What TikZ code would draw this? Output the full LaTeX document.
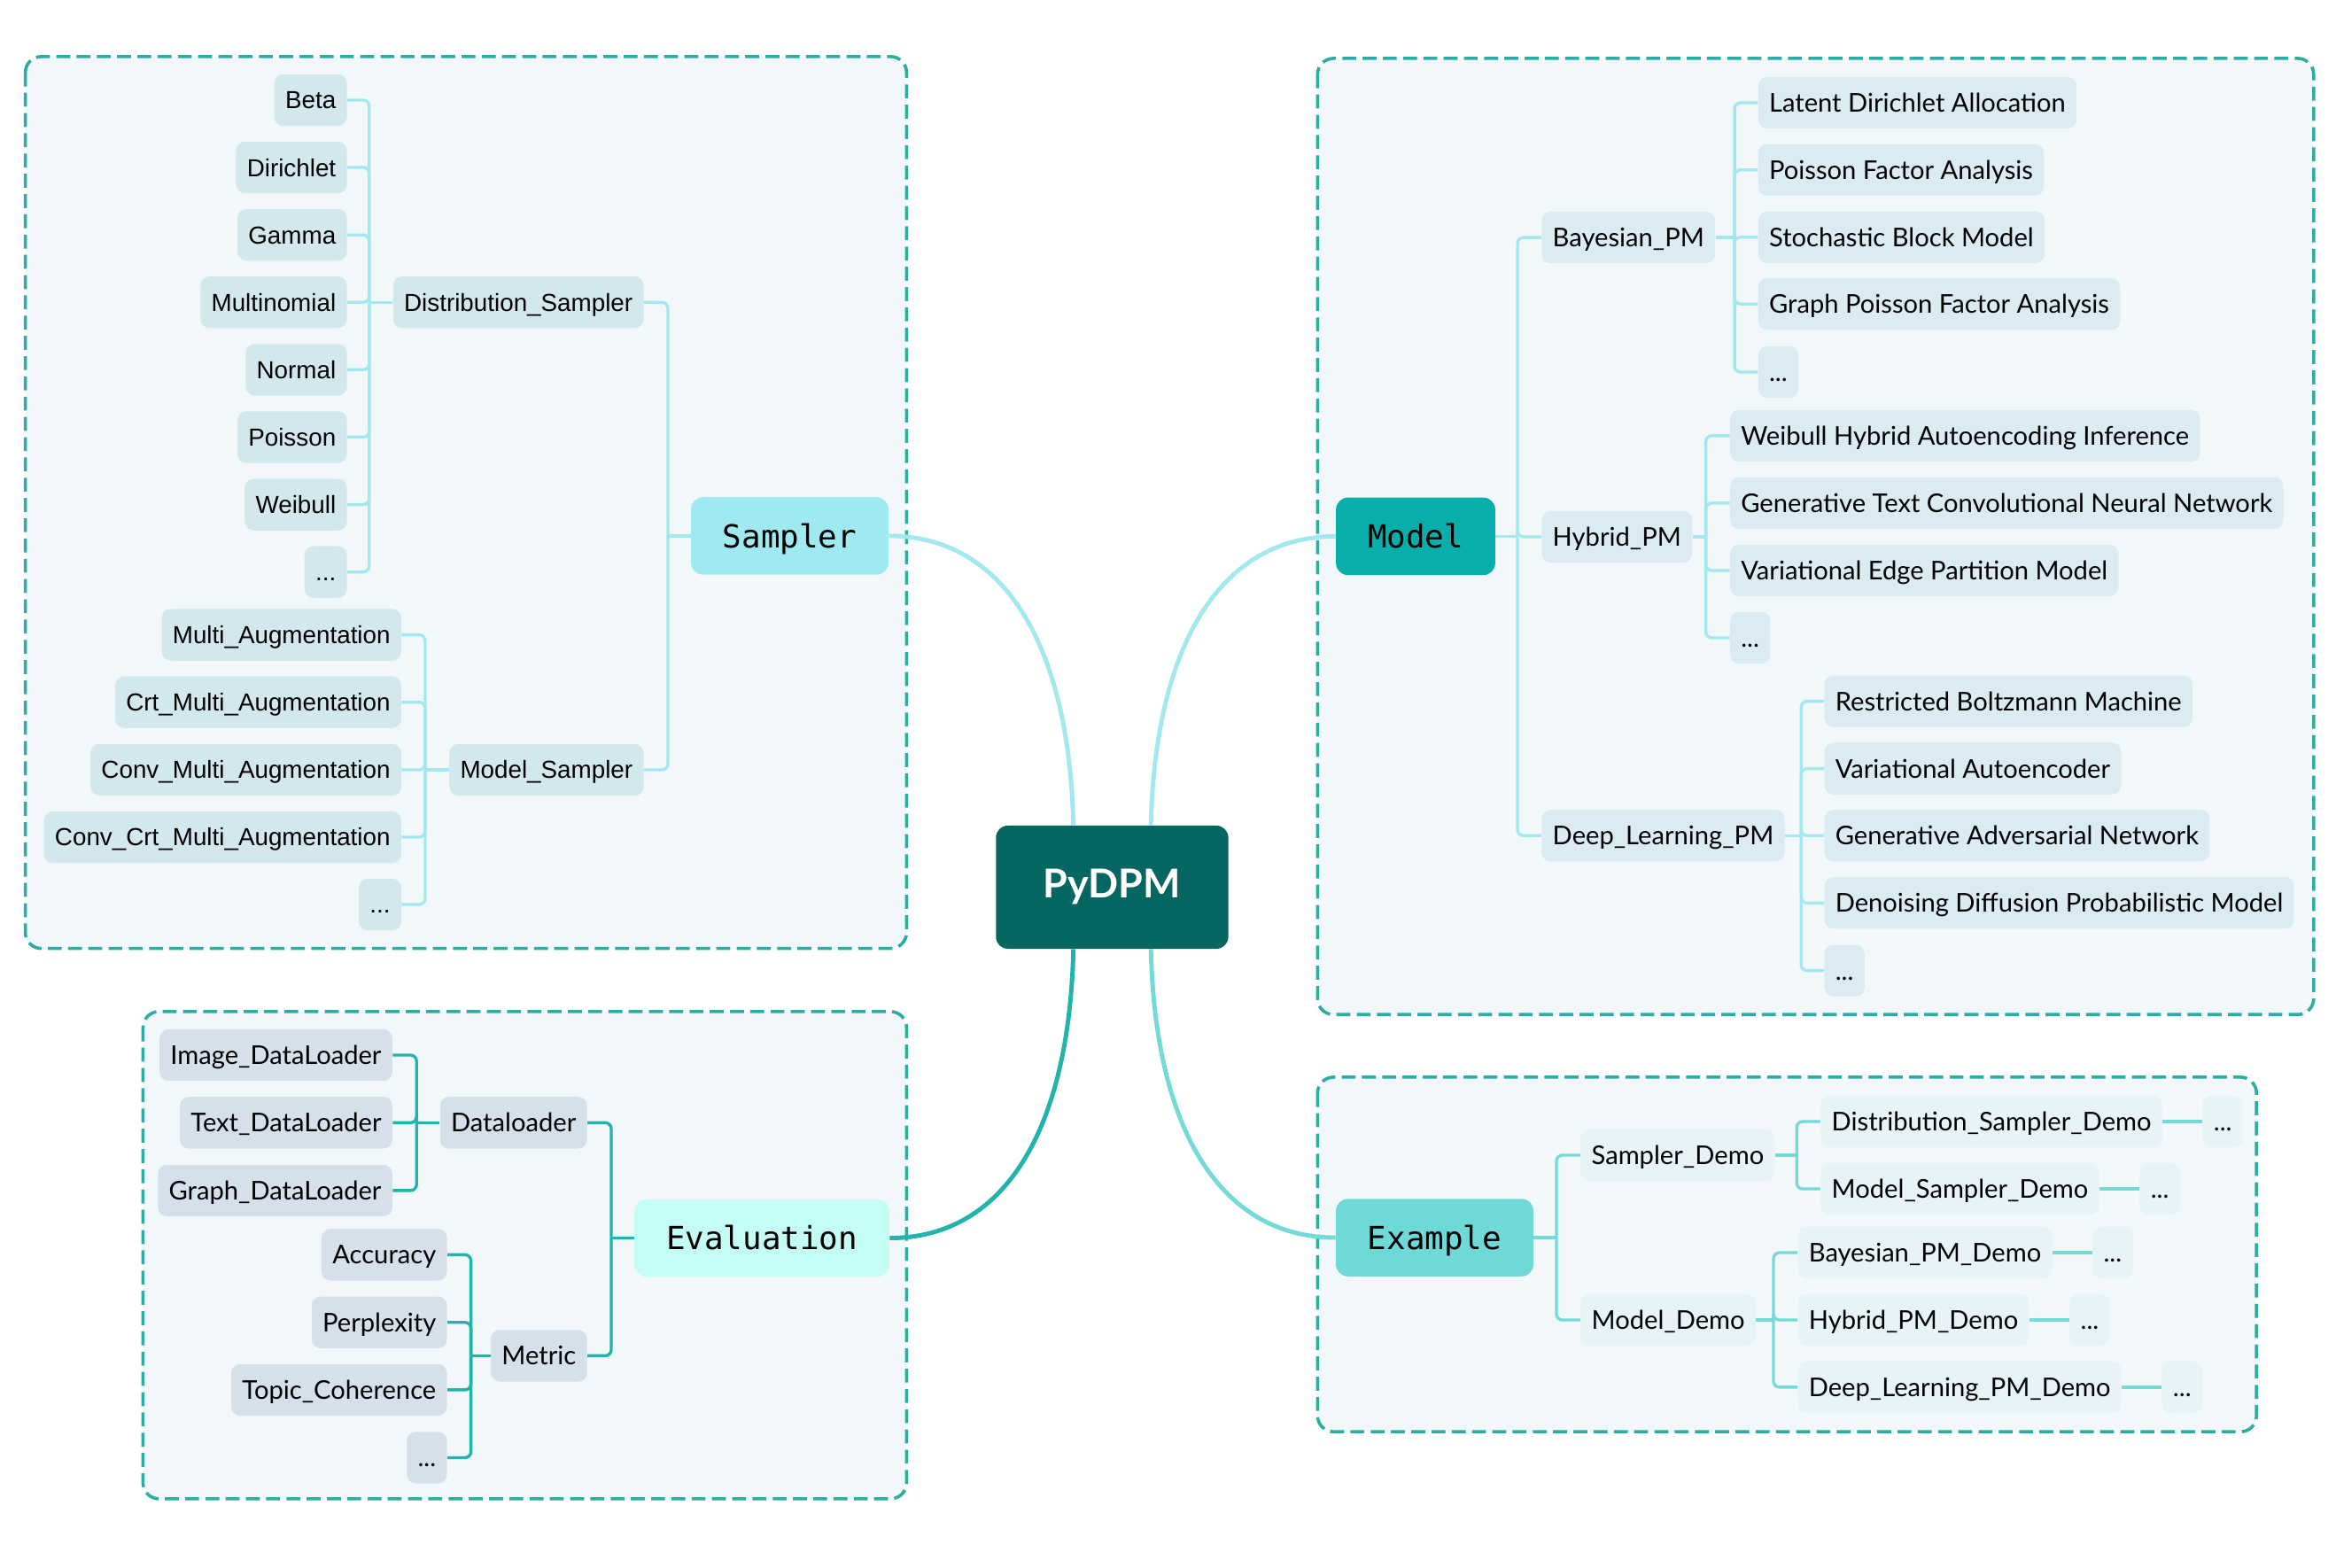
\documentclass[tikz,border=0pt]{standalone}
\usepackage{fontspec}
\setmainfont{Lato}
\newfontfamily\arialfont{Liberation Sans}
\newfontfamily\codefont{DejaVu Sans Mono}
\usetikzlibrary{calc,positioning}

\definecolor{rootfill}{HTML}{066662}
\definecolor{samplerfill}{HTML}{9EEAF0}
\definecolor{modelfill}{HTML}{08AFAA}
\definecolor{evalfill}{HTML}{C4FCF6}
\definecolor{examplefill}{HTML}{6ED9D6}
\definecolor{samplerline}{HTML}{A3E8EE}
\definecolor{evalline}{HTML}{22B3AC}
\definecolor{exampleline}{HTML}{74DAD7}
\definecolor{samplerleaf}{HTML}{D3E8EC}
\definecolor{modelleaf}{HTML}{DBEBF2}
\definecolor{evalleaf}{HTML}{D5E0EB}
\definecolor{exampleleaf}{HTML}{E8F3F8}
\definecolor{regionbg}{HTML}{F2F7FA}
\definecolor{regionline}{HTML}{2BADA4}

\tikzset{
  region/.style={draw=regionline, fill=regionbg, line width=1.6pt, dash pattern=on 7pt off 3.2pt, rounded corners=8pt},
  leaf/.style={rounded corners=4.5pt, minimum height=26pt, inner xsep=5.5pt, inner ysep=0pt,
    text height=9.3pt, text depth=0pt, font=\fontsize{13}{15}\selectfont},
  sleaf/.style={leaf, fill=samplerleaf, text height=8.9pt, font=\arialfont\fontsize{12.4}{15}\selectfont},
  mleaf/.style={leaf, fill=modelleaf},
  eleaf/.style={leaf, fill=evalleaf},
  xleaf/.style={leaf, fill=exampleleaf},
  topic/.style={rounded corners=6pt, minimum height=39pt, inner xsep=16pt, inner ysep=0pt,
    text height=11.7pt, text depth=0pt, font=\codefont\fontsize{16}{18}\selectfont},
  link/.style={line width=1.5pt, rounded corners=3pt},
  rootlink/.style={line width=2.2pt}
}

\begin{document}
\begin{tikzpicture}[x=0.75pt,y=0.75pt,yscale=-1,xscale=1]
    \path (0,0) rectangle (1568,1052);

    %Shape: Rectangle [sampler region]
    \draw[region] (17,38) rectangle (608.5,636.6);
    %Shape: Rectangle [model region]
    \draw[region] (884.4,39.2) rectangle (1553,681);
    %Shape: Rectangle [evaluation region]
    \draw[region] (96,679) rectangle (608.5,1006);
    %Shape: Rectangle [example region]
    \draw[region] (884.4,723) rectangle (1514.6,961);

    % Root
    \node[rounded corners=6pt, fill=rootfill, text=white, minimum width=117pt, minimum height=62pt,
      font=\bfseries\fontsize{20}{24}\selectfont] (root) at (746.5,595.5) {PyDPM};

    % Topics
    \node[topic, fill=samplerfill] (sampler) at (530.1,359.7) {Sampler};
    \node[topic, fill=modelfill] (model) at (950.2,360) {Model};
    \node[topic, fill=evalfill] (evaluation) at (511.4,831) {Evaluation};
    \node[topic, fill=examplefill] (example) at (963,830.7) {Example};

    \draw[rootlink, samplerline] (sampler.east) .. controls +(75,0) and +(-3,-125) .. ($(root.north)+(-26,0)$);
    \draw[rootlink, samplerline] (model.west) .. controls +(-75,0) and +(3,-125) .. ($(root.north)+(26,0)$);
    \draw[rootlink, evalline] (evaluation.east) .. controls +(75,0) and +(-3,125) .. ($(root.south)+(-26,0)$);
    \draw[rootlink, exampleline] (example.west) .. controls +(-75,0) and +(3,125) .. ($(root.south)+(26,0)$);

    % Sampler
    \node[sleaf, anchor=east] (distsampler) at (432.3,202.9) {Distribution\_Sampler};
    \node[sleaf, anchor=east] (modelsampler) at (432.3,516.7) {Model\_Sampler};
    \node[sleaf, anchor=east] (beta) at (233.1,67.2) {Beta};
    \node[sleaf, anchor=east] (dirichlet) at (233.1,112.4) {Dirichlet};
    \node[sleaf, anchor=east] (gamma) at (233.1,157.7) {Gamma};
    \node[sleaf, anchor=east] (multinomial) at (233.1,202.9) {Multinomial};
    \node[sleaf, anchor=east] (normal) at (233.1,248.2) {Normal};
    \node[sleaf, anchor=east] (poisson) at (233.1,293.4) {Poisson};
    \node[sleaf, anchor=east] (weibull) at (233.1,338.7) {Weibull};
    \node[sleaf, anchor=east] (dsmore) at (233.1,383.9) {...};
    \node[sleaf, anchor=east] (multiaug) at (269.6,426.1) {Multi\_Augmentation};
    \node[sleaf, anchor=east] (crtaug) at (269.6,471.3) {Crt\_Multi\_Augmentation};
    \node[sleaf, anchor=east] (convaug) at (269.6,516.7) {Conv\_Multi\_Augmentation};
    \node[sleaf, anchor=east] (convcrtaug) at (269.6,561.9) {Conv\_Crt\_Multi\_Augmentation};
    \node[sleaf, anchor=east] (msmore) at (269.6,607.1) {...};

    \coordinate (sbus) at (448.3,359.7);
    \coordinate (dsbus) at (247.8,202.9);
    \coordinate (msbus) at (285.4,516.7);
    \foreach \n in {distsampler,modelsampler} \draw[link, samplerline] (\n.east) -| (sbus);
    \draw[link, samplerline] (sbus) -- (sampler.west);
    \foreach \n in {beta,dirichlet,gamma,multinomial,normal,poisson,weibull,dsmore}
      \draw[link, samplerline] (\n.east) -| (dsbus);
    \draw[link, samplerline] (dsbus) -- (distsampler.west);
    \foreach \n in {multiaug,crtaug,convaug,convcrtaug,msmore}
      \draw[link, samplerline] (\n.east) -| (msbus);
    \draw[link, samplerline] (msbus) -- (modelsampler.west);

    % Model
    \node[mleaf, anchor=west] (bayesian) at (1034.6,159.4) {Bayesian\_PM};
    \node[mleaf, anchor=west] (hybrid) at (1034.6,360.3) {Hybrid\_PM};
    \node[mleaf, anchor=west] (deep) at (1034.6,560.9) {Deep\_Learning\_PM};
    \node[mleaf, anchor=west] (lda) at (1179.9,69) {Latent Dirichlet Allocation};
    \node[mleaf, anchor=west] (pfa) at (1179.9,114) {Poisson Factor Analysis};
    \node[mleaf, anchor=west] (sbm) at (1179.9,159.2) {Stochastic Block Model};
    \node[mleaf, anchor=west] (gpfa) at (1179.9,204.1) {Graph Poisson Factor Analysis};
    \node[mleaf, anchor=west] (bmore) at (1179.9,249.7) {...};
    \node[mleaf, anchor=west] (whai) at (1161,292.5) {Weibull Hybrid Autoencoding Inference};
    \node[mleaf, anchor=west] (gtcnn) at (1161,337.7) {Generative Text Convolutional Neural Network};
    \node[mleaf, anchor=west] (vepm) at (1161,382.9) {Variational Edge Partition Model};
    \node[mleaf, anchor=west] (hmore) at (1161,428.1) {...};
    \node[mleaf, anchor=west] (rbm) at (1224.3,470.7) {Restricted Boltzmann Machine};
    \node[mleaf, anchor=west] (vae) at (1224.3,515.9) {Variational Autoencoder};
    \node[mleaf, anchor=west] (gan) at (1224.3,560.9) {Generative Adversarial Network};
    \node[mleaf, anchor=west] (ddpm) at (1224.3,606.1) {Denoising Diffusion Probabilistic Model};
    \node[mleaf, anchor=west] (dmore) at (1224.3,651.5) {...};

    \coordinate (mbus) at (1018.6,360);
    \coordinate (bbus) at (1164.3,159.4);
    \coordinate (hbus) at (1145,360.3);
    \coordinate (dbus) at (1209,560.9);
    \draw[link, samplerline] (model.east) -- (mbus);
    \foreach \n in {bayesian,hybrid,deep} \draw[link, samplerline] (mbus) |- (\n.west);
    \draw[link, samplerline] (bayesian.east) -- (bbus);
    \foreach \n in {lda,pfa,sbm,gpfa,bmore} \draw[link, samplerline] (bbus) |- (\n.west);
    \draw[link, samplerline] (hybrid.east) -- (hbus);
    \foreach \n in {whai,gtcnn,vepm,hmore} \draw[link, samplerline] (hbus) |- (\n.west);
    \draw[link, samplerline] (deep.east) -- (dbus);
    \foreach \n in {rbm,vae,gan,ddpm,dmore} \draw[link, samplerline] (dbus) |- (\n.west);

    % Evaluation
    \node[eleaf, anchor=east] (dataloader) at (394.3,753.6) {Dataloader};
    \node[eleaf, anchor=east] (metric) at (394.3,910) {Metric};
    \node[eleaf, anchor=east] (imageloader) at (263.6,708.2) {Image\_DataLoader};
    \node[eleaf, anchor=east] (textloader) at (263.6,753.6) {Text\_DataLoader};
    \node[eleaf, anchor=east] (graphloader) at (263.6,799.1) {Graph\_DataLoader};
    \node[eleaf, anchor=east] (accuracy) at (300.3,842.2) {Accuracy};
    \node[eleaf, anchor=east] (perplexity) at (300.3,887.6) {Perplexity};
    \node[eleaf, anchor=east] (coherence) at (300.3,932.9) {Topic\_Coherence};
    \node[eleaf, anchor=east] (mmore) at (300.3,978.4) {...};

    \coordinate (ebus) at (410.3,831);
    \coordinate (dlbus) at (279.6,753.6);
    \coordinate (mtbus) at (316.1,910);
    \foreach \n in {dataloader,metric} \draw[link, evalline] (\n.east) -| (ebus);
    \draw[link, evalline] (ebus) -- (evaluation.west);
    \foreach \n in {imageloader,textloader,graphloader} \draw[link, evalline] (\n.east) -| (dlbus);
    \draw[link, evalline] (dlbus) -- (dataloader.west);
    \foreach \n in {accuracy,perplexity,coherence,mmore} \draw[link, evalline] (\n.east) -| (mtbus);
    \draw[link, evalline] (mtbus) -- (metric.west);

    % Example
    \node[xleaf, anchor=west] (samplerdemo) at (1060.7,775.4) {Sampler\_Demo};
    \node[xleaf, anchor=west] (modeldemo) at (1060.7,886) {Model\_Demo};
    \node[xleaf, anchor=west] (distdemo) at (1221.9,752.8) {Distribution\_Sampler\_Demo};
    \node[xleaf, anchor=west] (msdemo) at (1221.9,798) {Model\_Sampler\_Demo};
    \node[xleaf, anchor=west] (bayesdemo) at (1206.5,840.8) {Bayesian\_PM\_Demo};
    \node[xleaf, anchor=west] (hybriddemo) at (1206.5,886) {Hybrid\_PM\_Demo};
    \node[xleaf, anchor=west] (deepdemo) at (1206.5,931.1) {Deep\_Learning\_PM\_Demo};
    \node[xleaf, right=20pt of distdemo] (distdemomore) {...};
    \node[xleaf, right=20pt of msdemo] (msdemomore) {...};
    \node[xleaf, right=20pt of bayesdemo] (bayesdemomore) {...};
    \node[xleaf, right=20pt of hybriddemo] (hybriddemomore) {...};
    \node[xleaf, right=20pt of deepdemo] (deepdemomore) {...};

    \coordinate (xbus) at (1044.7,830.7);
    \coordinate (sdbus) at (1206,775.4);
    \coordinate (mdbus) at (1190.4,886);
    \draw[link, exampleline] (example.east) -- (xbus);
    \foreach \n in {samplerdemo,modeldemo} \draw[link, exampleline] (xbus) |- (\n.west);
    \draw[link, exampleline] (samplerdemo.east) -- (sdbus);
    \foreach \n in {distdemo,msdemo} \draw[link, exampleline] (sdbus) |- (\n.west);
    \draw[link, exampleline] (modeldemo.east) -- (mdbus);
    \foreach \n in {bayesdemo,hybriddemo,deepdemo} \draw[link, exampleline] (mdbus) |- (\n.west);
    \foreach \n in {distdemo,msdemo,bayesdemo,hybriddemo,deepdemo} \draw[link, exampleline] (\n.east) -- (\n more.west);

  \end{tikzpicture}
\end{document}
